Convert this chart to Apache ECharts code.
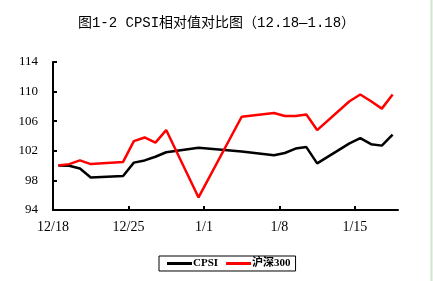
<!DOCTYPE html>
<html><head><meta charset="utf-8">
<script src="https://cdn.jsdelivr.net/npm/echarts@6/dist/echarts.min.js"></script>
<style>html,body{margin:0;padding:0;background:#fff}#c{width:433px;height:281px}</style>
</head><body><div id="c"></div>
<script>
var dates = ['2012-12-18','2012-12-19','2012-12-20','2012-12-21','2012-12-24','2012-12-25','2012-12-26','2012-12-27','2012-12-28','2012-12-31','2013-01-04','2013-01-07','2013-01-08','2013-01-09','2013-01-10','2013-01-11','2013-01-14','2013-01-15','2013-01-16','2013-01-17','2013-01-18'];
var cpsi = [100.0, 99.97, 99.6, 98.4, 98.6, 100.4, 100.7, 101.2, 101.8, 102.4, 101.9, 101.4, 101.7, 102.3, 102.5, 100.3, 103.0, 103.7, 102.9, 102.7, 104.2];
var hs300 = [100.0, 100.2, 100.7, 100.2, 100.5, 103.3, 103.8, 103.1, 104.8, 95.7, 106.6, 107.1, 106.7, 106.7, 106.9, 104.8, 108.7, 109.6, 108.7, 107.7, 109.6];
var tickLabels = ['12/18','12/25','1/1','1/8','1/15'];
var seriesNames = ['CPSI','沪深300'];
var startDate = '2012-12-18';
var endDate = '2013-01-19';

function dayOf(s){ var p=s.split('-'); return Date.UTC(+p[0],+p[1]-1,+p[2])/86400000; }
var d0 = dayOf(startDate), span = dayOf(endDate)-d0;
function pts(vals){ return dates.map(function(d,i){ return [dayOf(d)-d0+0.5, vals[i]]; }); }
var tickVals = tickLabels.map(function(t,i){ return i*7; });

var chart = echarts.init(document.getElementById('c'), null, {renderer:'canvas'});
var serif = "'Liberation Serif','Noto Sans CJK SC',serif";
chart.setOption({
  animation:false,
  backgroundColor:'#fff',
  title:{text:'图1-2 CPSI相对值对比图（12.18—1.18）', left:'center', top:11,
    textStyle:{fontFamily:"'Liberation Mono','Noto Sans CJK SC',monospace", fontSize:14, fontWeight:'normal', color:'#000'}},
  grid:{left:53, right:35, top:62, bottom:71},
  legend:{left:159, top:256, icon:'rect', itemWidth:25, itemHeight:3, itemGap:8,
    borderColor:'#000', borderWidth:1, padding:[2,5,2,8],
    textStyle:{fontFamily:serif, fontSize:11, fontWeight:'bold', color:'#000', padding:[0,0,0,-4]},
    data:seriesNames},
  xAxis:{type:'value', min:0, max:span,
    axisLine:{lineStyle:{color:'#000', width:2}},
    axisTick:{inside:true, length:4, customValues:tickVals, lineStyle:{color:'#000', width:2}},
    axisLabel:{customValues:tickVals, margin:10, fontFamily:serif, fontSize:14, color:'#000',
      formatter:function(v){ var i=Math.round(v/7); return tickLabels[i]||''; }},
    splitLine:{show:false}},
  yAxis:{type:'value', min:94, max:114, interval:4,
    axisLine:{show:true, lineStyle:{color:'#000', width:2}},
    axisTick:{show:true, inside:true, length:4, lineStyle:{color:'#000', width:2}},
    axisLabel:{margin:15, fontFamily:serif, fontSize:13, color:'#000'},
    splitLine:{show:false}},
  graphic:[{type:'line', shape:{x1:431.5,y1:0,x2:431.5,y2:281}, style:{stroke:'#cfe6cf', lineWidth:2}}],
  series:[
    {name:seriesNames[0], type:'line', data:pts(cpsi), showSymbol:false, symbol:'none',
      itemStyle:{color:'#000'}, lineStyle:{color:'#000', width:2.5}},
    {name:seriesNames[1], type:'line', data:pts(hs300), showSymbol:false, symbol:'none',
      itemStyle:{color:'#ff0000'}, lineStyle:{color:'#ff0000', width:2.5}}
  ]
});
</script></body></html>
